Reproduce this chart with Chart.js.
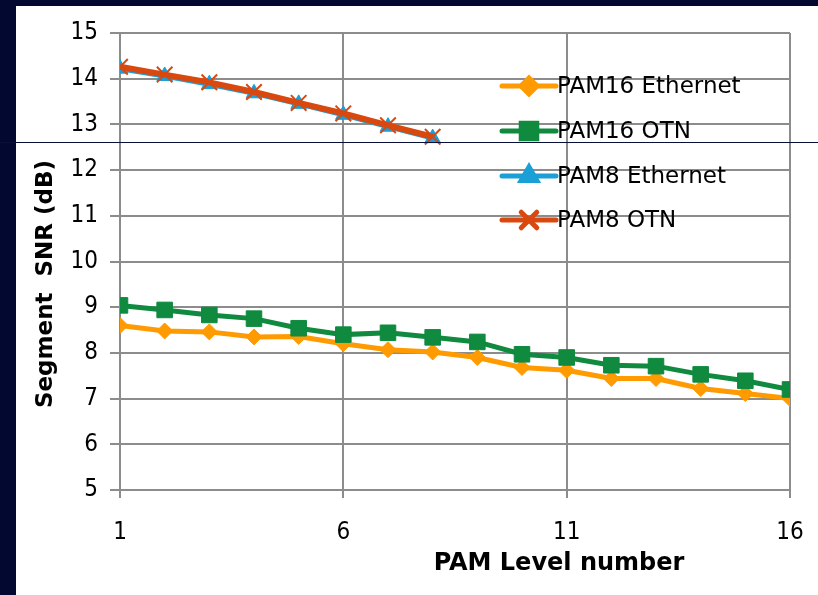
<!DOCTYPE html>
<html lang="en">
<head>
    <meta charset="UTF-8">
    <title>Segment SNR vs PAM Level</title>
    <style>
        html, body {
            margin: 0;
            padding: 0;
            width: 818px;
            height: 595px;
            overflow: hidden;
            background-color: #020830;
        }
        #chart {
            position: absolute;
            left: 16px;
            top: 6px;
            background-color: #fff;
        }
        /* thin dark rule that runs across the slide */
        .slide-rule {
            position: absolute;
            left: 0;
            top: 142px;
            width: 818px;
            height: 1px;
            background-color: #08103a;
        }
    </style>
</head>
<body>
    <canvas id="chart" width="802" height="589"></canvas>
    <div class="slide-rule"></div>

    <script src="https://cdn.jsdelivr.net/npm/chart.js"></script>
    <script>
        // PAM level numbers (x axis)
        const pamLevels = [1, 2, 3, 4, 5, 6, 7, 8, 9, 10, 11, 12, 13, 14, 15, 16];
        const xTickValues = [1, 6, 11, 16];

        // Segment SNR (dB)
        const pam16Ethernet = [8.60, 8.48, 8.46, 8.35, 8.36, 8.20, 8.07, 8.02, 7.90, 7.68, 7.62, 7.44, 7.44, 7.22, 7.11, 7.00];
        const pam16Otn      = [9.04, 8.94, 8.83, 8.75, 8.54, 8.40, 8.44, 8.34, 8.24, 7.97, 7.90, 7.73, 7.71, 7.53, 7.39, 7.20];
        const pam8Ethernet  = [14.22, 14.06, 13.88, 13.68, 13.45, 13.21, 12.95, 12.70];
        const pam8Otn       = [14.26, 14.09, 13.92, 13.71, 13.47, 13.24, 12.98, 12.73];

        const seriesNames = ['PAM16 Ethernet', 'PAM16 OTN', 'PAM8 Ethernet', 'PAM8 OTN'];

        function toPoints(values) {
            return values.map((v, i) => ({ x: pamLevels[i], y: v }));
        }

        // legend drawn inside the plot, like the original
        const insideLegend = {
            id: 'insideLegend',
            afterDraw(chart) {
                const ctx = chart.ctx;
                const area = chart.chartArea;
                const x0 = area.left + 382;
                const x1 = area.left + 436;
                const rowY = [53, 98, 143, 187];
                ctx.save();
                chart.data.datasets.forEach((ds, i) => {
                    const y = area.top + rowY[i];
                    ctx.strokeStyle = ds.borderColor;
                    ctx.lineWidth = 5;
                    ctx.lineCap = 'round';
                    ctx.beginPath();
                    ctx.moveTo(x0, y);
                    ctx.lineTo(x1, y);
                    ctx.stroke();

                    ctx.fillStyle = ds.pointBackgroundColor;
                    ctx.strokeStyle = ds.pointBorderColor;
                    Chart.helpers.drawPoint(ctx, {
                        pointStyle: ds.pointStyle,
                        radius: ds.pointRadius,
                        borderWidth: ds.pointBorderWidth,
                        rotation: 0
                    }, (x0 + x1) / 2, y);

                    ctx.fillStyle = '#000';
                    ctx.font = '23px "DejaVu Sans"';
                    ctx.textAlign = 'left';
                    ctx.textBaseline = 'middle';
                    ctx.fillText(ds.label, x1 + 1, y + 1);
                });
                ctx.restore();
            }
        };

        // axis titles sit off-centre in the source, so place them by hand
        const axisTitles = {
            id: 'axisTitles',
            afterDraw(chart) {
                const ctx = chart.ctx;
                const area = chart.chartArea;
                ctx.save();
                ctx.fillStyle = '#000';
                ctx.font = 'bold 24px "DejaVu Sans"';
                ctx.textAlign = 'center';
                ctx.textBaseline = 'middle';
                ctx.fillText('PAM Level number', area.left + 439, area.bottom + 74);

                ctx.font = 'bold 23px "DejaVu Sans"';
                ctx.translate(area.left - 74, area.top + 251);
                ctx.rotate(-Math.PI / 2);
                ctx.fillText('Segment  SNR (dB)', 0, 0);
                ctx.restore();
            }
        };

        const ctx = document.getElementById('chart').getContext('2d');
        const snrChart = new Chart(ctx, {
            type: 'line',
            data: {
                datasets: [{
                    label: seriesNames[0],
                    data: toPoints(pam16Ethernet),
                    borderColor: '#ff9a00',
                    borderWidth: 5,
                    pointStyle: 'rectRot',
                    pointRadius: 8,
                    pointBorderWidth: 1,
                    pointBackgroundColor: '#ff9a00',
                    pointBorderColor: '#ff9a00',
                    order: 3
                }, {
                    label: seriesNames[1],
                    data: toPoints(pam16Otn),
                    borderColor: '#0f8a3f',
                    borderWidth: 5,
                    pointStyle: 'rect',
                    pointRadius: 11,
                    pointBorderWidth: 1,
                    pointBackgroundColor: '#0f8a3f',
                    pointBorderColor: '#0f8a3f',
                    order: 2
                }, {
                    label: seriesNames[2],
                    data: toPoints(pam8Ethernet),
                    borderColor: '#1a9fd6',
                    borderWidth: 5,
                    pointStyle: 'triangle',
                    pointRadius: 9,
                    pointBorderWidth: 1,
                    pointBackgroundColor: '#1a9fd6',
                    pointBorderColor: '#1a9fd6',
                    order: 1
                }, {
                    label: seriesNames[3],
                    data: toPoints(pam8Otn),
                    borderColor: '#d9480f',
                    borderWidth: 6,
                    pointStyle: 'crossRot',
                    pointRadius: 11,
                    pointBorderWidth: 2,
                    pointBackgroundColor: '#d9480f',
                    pointBorderColor: '#d9480f',
                    order: 0
                }]
            },
            options: {
                responsive: false,
                animation: false,
                devicePixelRatio: 1,
                layout: {
                    padding: { top: 27, right: 28, left: 0, bottom: 0 }
                },
                plugins: {
                    legend: { display: false },
                    tooltip: { enabled: false }
                },
                elements: {
                    line: { tension: 0 }
                },
                scales: {
                    x: {
                        type: 'linear',
                        min: 1,
                        max: 16,
                        afterBuildTicks: (scale) => {
                            scale.ticks = xTickValues.map(v => ({ value: v }));
                        },
                        afterFit: (scale) => { scale.height = 105; },
                        grid: {
                            color: '#8c8c8c',
                            lineWidth: 2,
                            tickLength: 8,
                            tickColor: '#8c8c8c'
                        },
                        border: { color: '#8c8c8c', width: 2 },
                        ticks: {
                            color: '#000',
                            padding: 11,
                            maxRotation: 0,
                            // tall line height pushes the labels down without widening the side padding
                            font: { family: '"DejaVu Sans Condensed"', size: 24, lineHeight: 2 }
                        }
                    },
                    y: {
                        min: 5,
                        max: 15,
                        afterFit: (scale) => { scale.width = 104; },
                        grid: {
                            color: '#8c8c8c',
                            lineWidth: 2,
                            tickLength: 10,
                            tickColor: '#8c8c8c'
                        },
                        border: { color: '#8c8c8c', width: 2 },
                        ticks: {
                            stepSize: 1,
                            color: '#000',
                            padding: 12,
                            font: { family: '"DejaVu Sans Condensed"', size: 24 }
                        }
                    }
                }
            },
            plugins: [insideLegend, axisTitles]
        });
    </script>
</body>
</html>
